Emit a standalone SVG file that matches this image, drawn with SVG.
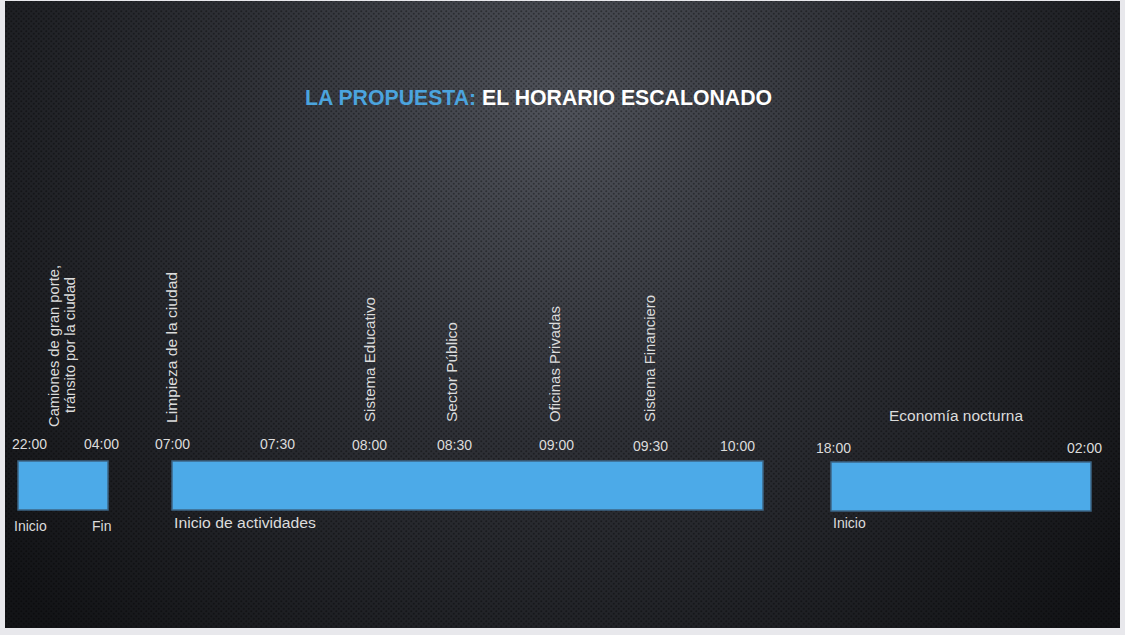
<svg xmlns="http://www.w3.org/2000/svg" width="1125" height="635" viewBox="0 0 1125 635">
  <defs>
    <radialGradient id="bg" cx="560" cy="110" r="720" gradientUnits="userSpaceOnUse">
      <stop offset="0" stop-color="#50535b"/>
      <stop offset="0.45" stop-color="#2f3137"/>
      <stop offset="1" stop-color="#131417"/>
    </radialGradient>
    <pattern id="dots" width="5" height="5" patternUnits="userSpaceOnUse">
      <circle cx="1.25" cy="1.25" r="1" fill="#000" fill-opacity="0.35"/>
      <circle cx="3.75" cy="3.75" r="1" fill="#000" fill-opacity="0.35"/>
    </pattern>
    <style>
      .lbl { font-family: "Liberation Sans", Arial, sans-serif; font-size: 14px; fill: #dcdcdc; }
      .bar { fill: #4caae8; stroke: #3c6686; stroke-width: 1.5; }
      .title { font-family: "Liberation Sans", Arial, sans-serif; font-size: 22px; font-weight: bold; }
    </style>
  </defs>
  <rect x="0" y="0" width="1125" height="635" fill="#e8e8ec"/>
  <rect x="5" y="1" width="1115" height="627" fill="url(#bg)"/>
  <rect x="5" y="1" width="1115" height="627" fill="url(#dots)"/>

  <g id="title">
    <text class="title" x="305" y="105" textLength="467" lengthAdjust="spacingAndGlyphs"><tspan fill="#4ba4de">LA PROPUESTA:</tspan><tspan fill="#ffffff"> EL HORARIO ESCALONADO</tspan></text>
  </g>

  <g id="camiones">
    <text class="lbl" transform="translate(59,346) rotate(-90)" text-anchor="middle" textLength="162" lengthAdjust="spacingAndGlyphs">Camiones de gran porte,</text>
    <text class="lbl" transform="translate(75,345) rotate(-90)" text-anchor="middle" textLength="136" lengthAdjust="spacingAndGlyphs">tránsito por la ciudad</text>
    <rect class="bar" x="18" y="461" width="90" height="49"/>
    <text class="lbl" x="12" y="449">22:00</text>
    <text class="lbl" x="84" y="449">04:00</text>
    <text class="lbl" x="14" y="531">Inicio</text>
    <text class="lbl" x="92" y="531">Fin</text>
  </g>

  <g id="actividades">
    <text class="lbl" transform="translate(177,423) rotate(-90)" textLength="151" lengthAdjust="spacingAndGlyphs">Limpieza de la ciudad</text>
    <text class="lbl" transform="translate(375,422) rotate(-90)" textLength="125" lengthAdjust="spacingAndGlyphs">Sistema Educativo</text>
    <text class="lbl" transform="translate(457,422) rotate(-90)" textLength="100" lengthAdjust="spacingAndGlyphs">Sector Público</text>
    <text class="lbl" transform="translate(560,422) rotate(-90)" textLength="116" lengthAdjust="spacingAndGlyphs">Oficinas Privadas</text>
    <text class="lbl" transform="translate(655,422) rotate(-90)" textLength="127" lengthAdjust="spacingAndGlyphs">Sistema Financiero</text>
    <rect class="bar" x="172" y="461" width="591" height="49"/>
    <text class="lbl" x="155" y="449">07:00</text>
    <text class="lbl" x="260" y="449">07:30</text>
    <text class="lbl" x="352" y="450">08:00</text>
    <text class="lbl" x="437" y="450">08:30</text>
    <text class="lbl" x="539" y="450">09:00</text>
    <text class="lbl" x="633" y="451">09:30</text>
    <text class="lbl" x="720" y="451">10:00</text>
    <text class="lbl" x="174" y="528" textLength="142" lengthAdjust="spacingAndGlyphs">Inicio de actividades</text>
  </g>

  <g id="nocturna">
    <text class="lbl" x="889" y="421" textLength="134" lengthAdjust="spacingAndGlyphs">Economía nocturna</text>
    <rect class="bar" x="831" y="462" width="260" height="49"/>
    <text class="lbl" x="816" y="453">18:00</text>
    <text class="lbl" x="1067" y="453">02:00</text>
    <text class="lbl" x="833" y="528">Inicio</text>
  </g>

  <g id="connectors"/>
</svg>
